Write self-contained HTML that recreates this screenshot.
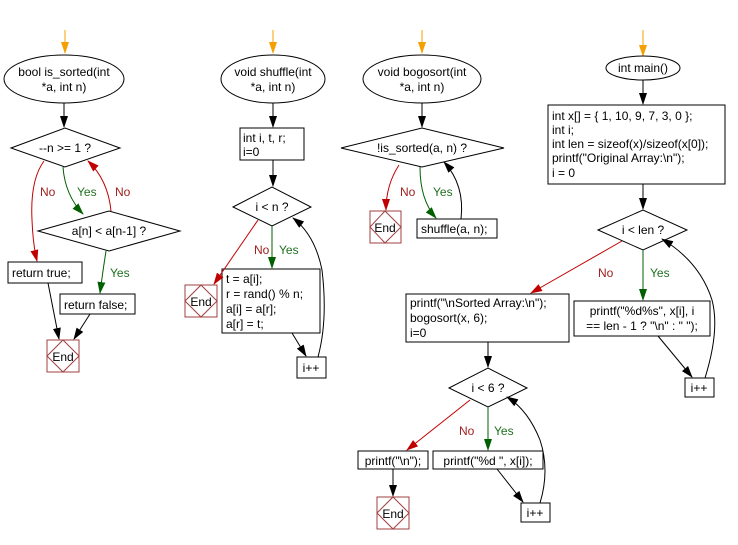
<!DOCTYPE html>
<html><head><meta charset="utf-8"><style>
html,body{margin:0;padding:0;background:#fff;}
svg{display:block;}
text{font-family:"Liberation Sans",Arial,sans-serif;font-size:12px;}
</style></head><body>
<svg width="738" height="545" viewBox="0 0 738 545" xmlns="http://www.w3.org/2000/svg">
<defs>
<marker id="k" markerWidth="12" markerHeight="10" refX="11" refY="4" orient="auto" markerUnits="userSpaceOnUse"><path d="M0,0 L12,4 L0,8 Z" fill="#000"/></marker>
<marker id="r" markerWidth="12" markerHeight="10" refX="11" refY="4" orient="auto" markerUnits="userSpaceOnUse"><path d="M0,0 L12,4 L0,8 Z" fill="#c00000"/></marker>
<marker id="g" markerWidth="12" markerHeight="10" refX="11" refY="4" orient="auto" markerUnits="userSpaceOnUse"><path d="M0,0 L12,4 L0,8 Z" fill="#006000"/></marker>
<marker id="o" markerWidth="12" markerHeight="10" refX="11" refY="4" orient="auto" markerUnits="userSpaceOnUse"><path d="M0,0 L12,4 L0,8 Z" fill="#f5a000"/></marker>
</defs>
<g fill="none" stroke-width="1">
<line x1="65" y1="30" x2="65" y2="53" stroke="#f5a000" marker-end="url(#o)"/>
<line x1="273" y1="30" x2="273" y2="53" stroke="#f5a000" marker-end="url(#o)"/>
<line x1="422" y1="30" x2="422" y2="53" stroke="#f5a000" marker-end="url(#o)"/>
<line x1="643" y1="30" x2="643" y2="56" stroke="#f5a000" marker-end="url(#o)"/>
</g>
<g fill="#fff" stroke="#000">
<ellipse cx="64" cy="79" rx="60" ry="24"/>
<polygon points="11,148 65,128 120,148 65,167"/>
<polygon points="38,231 109,211 180,231 109,251"/>
<rect x="8" y="262" width="74" height="21"/>
<rect x="60" y="294" width="75" height="20"/>
<ellipse cx="273" cy="79" rx="52" ry="24"/>
<rect x="240" y="128" width="64" height="32"/>
<polygon points="233,207 272,187 311,207 272,226"/>
<rect x="222" y="269" width="98" height="64"/>
<rect x="297" y="357" width="29" height="21"/>
<ellipse cx="422" cy="79" rx="59" ry="24"/>
<polygon points="341,148 422,128 504,148 422,167"/>
<rect x="417" y="219" width="80" height="19"/>
<ellipse cx="643" cy="68" rx="37" ry="12"/>
<rect x="548" y="105" width="177" height="79"/>
<polygon points="598,230 643,210 687,230 643,250"/>
<rect x="406" y="294" width="163" height="48"/>
<rect x="574" y="301" width="136" height="35"/>
<rect x="685" y="378" width="29" height="19"/>
<polygon points="449,388 488,368 527,388 488,407"/>
<rect x="358" y="451" width="70" height="18"/>
<rect x="433" y="451" width="110" height="18"/>
<rect x="521" y="503" width="29" height="19"/>
</g>
<g fill="#fff" stroke="#a04040">
<rect x="47" y="340" width="32" height="32"/><polygon points="47,356 63,340 79,356 63,372"/>
<rect x="185" y="285" width="32" height="32"/><polygon points="185,301 201,285 217,301 201,317"/>
<rect x="370" y="211" width="31" height="32"/><polygon points="370,227 385,211 401,227 385,243"/>
<rect x="377" y="497" width="32" height="32"/><polygon points="377,513 393,497 409,513 393,529"/>
</g>
<g fill="none">
<line x1="64" y1="103" x2="64" y2="127" stroke="#000" marker-end="url(#k)"/>
<path d="M44,161 Q30,180 32,220 Q33,245 37,261" stroke="#c00000" marker-end="url(#r)"/>
<path d="M63,167 Q65,195 83,214" stroke="#006000" marker-end="url(#g)"/>
<path d="M111,211 Q108,180 88,161" stroke="#c00000" marker-end="url(#r)"/>
<path d="M106,251 Q103,270 100,293" stroke="#006000" marker-end="url(#g)"/>
<line x1="48" y1="283" x2="59" y2="339" stroke="#000" marker-end="url(#k)"/>
<line x1="90" y1="314" x2="74" y2="339" stroke="#000" marker-end="url(#k)"/>
<line x1="273" y1="103" x2="273" y2="127" stroke="#000" marker-end="url(#k)"/>
<line x1="273" y1="160" x2="273" y2="186" stroke="#000" marker-end="url(#k)"/>
<line x1="258" y1="220" x2="214" y2="284" stroke="#c00000" marker-end="url(#r)"/>
<line x1="272" y1="226" x2="272" y2="268" stroke="#006000" marker-end="url(#g)"/>
<line x1="292" y1="333" x2="306" y2="356" stroke="#000" marker-end="url(#k)"/>
<path d="M318,357 Q328,320 322,270 Q315,235 293,218" stroke="#000" marker-end="url(#k)"/>
<line x1="422" y1="103" x2="422" y2="127" stroke="#000" marker-end="url(#k)"/>
<path d="M399,165 Q386,185 386,210" stroke="#c00000" marker-end="url(#r)"/>
<path d="M420,167 Q420,200 436,218" stroke="#006000" marker-end="url(#g)"/>
<path d="M461,219 Q465,185 444,162" stroke="#000" marker-end="url(#k)"/>
<line x1="643" y1="80" x2="643" y2="104" stroke="#000" marker-end="url(#k)"/>
<line x1="643" y1="184" x2="643" y2="209" stroke="#000" marker-end="url(#k)"/>
<line x1="622" y1="241" x2="531" y2="293" stroke="#c00000" marker-end="url(#r)"/>
<line x1="643" y1="250" x2="643" y2="300" stroke="#006000" marker-end="url(#g)"/>
<line x1="658" y1="336" x2="692" y2="377" stroke="#000" marker-end="url(#k)"/>
<path d="M705,378 Q720,330 712,300 Q700,262 662,239" stroke="#000" marker-end="url(#k)"/>
<line x1="488" y1="342" x2="488" y2="367" stroke="#000" marker-end="url(#k)"/>
<line x1="470" y1="400" x2="407" y2="450" stroke="#c00000" marker-end="url(#r)"/>
<line x1="488" y1="407" x2="488" y2="450" stroke="#006000" marker-end="url(#g)"/>
<line x1="393" y1="469" x2="393" y2="496" stroke="#000" marker-end="url(#k)"/>
<line x1="497" y1="469" x2="523" y2="502" stroke="#000" marker-end="url(#k)"/>
<path d="M540,503 Q550,470 540,440 Q528,410 507,397" stroke="#000" marker-end="url(#k)"/>
</g>
<g fill="#000">
<text x="64" y="76" text-anchor="middle">bool is_sorted(int</text>
<text x="64" y="91" text-anchor="middle">*a, int n)</text>
<text x="65" y="152" text-anchor="middle">--n &gt;= 1 ?</text>
<text x="109" y="235" text-anchor="middle">a[n] &lt; a[n-1] ?</text>
<text x="12" y="277">return true;</text>
<text x="64" y="309">return false;</text>
<text x="63" y="361" text-anchor="middle">End</text>
<text x="273" y="76" text-anchor="middle">void shuffle(int</text>
<text x="273" y="91" text-anchor="middle">*a, int n)</text>
<text x="243" y="142">int i, t, r;</text>
<text x="243" y="156">i=0</text>
<text x="272" y="211" text-anchor="middle">i &lt; n ?</text>
<text x="226" y="283">t = a[i];</text>
<text x="226" y="298">r = rand() % n;</text>
<text x="226" y="313">a[i] = a[r];</text>
<text x="226" y="328">a[r] = t;</text>
<text x="311" y="372" text-anchor="middle">i++</text>
<text x="201" y="306" text-anchor="middle">End</text>
<text x="422" y="76" text-anchor="middle">void bogosort(int</text>
<text x="422" y="91" text-anchor="middle">*a, int n)</text>
<text x="422" y="152" text-anchor="middle">!is_sorted(a, n) ?</text>
<text x="385" y="232" text-anchor="middle">End</text>
<text x="421" y="233">shuffle(a, n);</text>
<text x="643" y="72" text-anchor="middle">int main()</text>
<text x="552" y="120">int x[] = { 1, 10, 9, 7, 3, 0 };</text>
<text x="552" y="134">int i;</text>
<text x="552" y="148">int len = sizeof(x)/sizeof(x[0]);</text>
<text x="552" y="162">printf("Original Array:\n");</text>
<text x="552" y="177">i = 0</text>
<text x="643" y="234" text-anchor="middle">i &lt; len ?</text>
<text x="410" y="307">printf("\nSorted Array:\n");</text>
<text x="410" y="322">bogosort(x, 6);</text>
<text x="410" y="337">i=0</text>
<text x="642" y="315" text-anchor="middle">printf("%d%s", x[i], i</text>
<text x="642" y="330" text-anchor="middle">== len - 1 ? "\n" : " ");</text>
<text x="699" y="392" text-anchor="middle">i++</text>
<text x="488" y="392" text-anchor="middle">i &lt; 6 ?</text>
<text x="393" y="465" text-anchor="middle">printf("\n");</text>
<text x="488" y="465" text-anchor="middle">printf("%d ", x[i]);</text>
<text x="393" y="518" text-anchor="middle">End</text>
<text x="535" y="517" text-anchor="middle">i++</text>
</g>
<g fill="#a02020">
<text x="40" y="196">No</text>
<text x="115" y="196">No</text>
<text x="254" y="254">No</text>
<text x="400" y="196">No</text>
<text x="598" y="277">No</text>
<text x="459" y="435">No</text>
</g>
<g fill="#207020">
<text x="77" y="196">Yes</text>
<text x="110" y="277">Yes</text>
<text x="279" y="254">Yes</text>
<text x="433" y="196">Yes</text>
<text x="650" y="277">Yes</text>
<text x="494" y="435">Yes</text>
</g>
</svg>
</body></html>
